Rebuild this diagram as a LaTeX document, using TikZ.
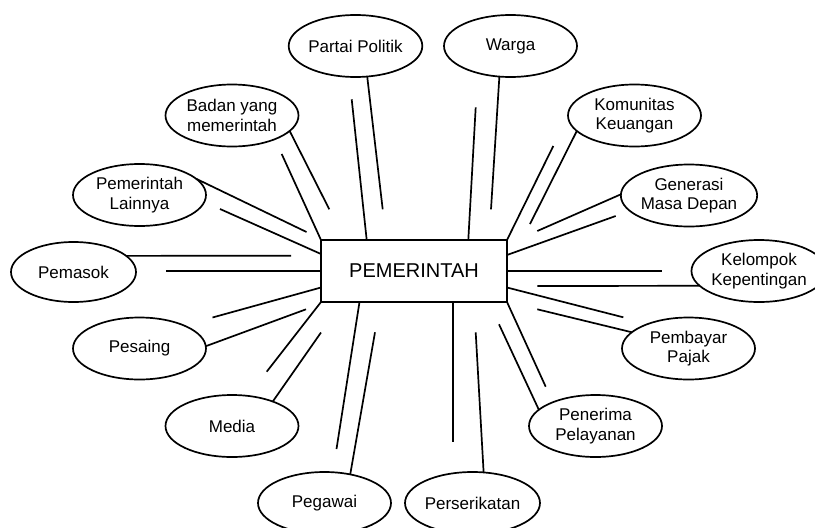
\documentclass[tikz,border=0pt]{standalone}
\usepackage{fontspec}
\setmainfont{Liberation Sans}
\usetikzlibrary{shapes.geometric}

\begin{document}
\begin{tikzpicture}[x=1pt, y=-1pt,
        party/.style={draw, ellipse, line width=1.7pt, inner sep=0pt, outer sep=0pt,
            minimum width=133pt, minimum height=62pt, align=center,
            font=\fontsize{17}{19.5}\selectfont},
        link/.style={line width=1.7pt}]
    \useasboundingbox (0,0) rectangle (815,528);
    \clip (0,0) rectangle (815,528);
        % Draw the centre box
        \node[draw, line width=1.7pt, outer sep=0pt, minimum width=186pt, minimum height=62pt,
            font=\fontsize{20}{24}\selectfont] (gov) at (414,271) {PEMERINTAH};
        % Draw the stakeholders
        \node[party] (partai) at (355.5,46) {Partai Politik};
        \node[party] (warga) at (510.5,46) {Warga};
        \node[party] (badan) at (232,115.5) {Badan yang\\memerintah};
        \node[party] (komunitas) at (634.5,115.5) {Komunitas\\Keuangan};
        \node[party] (lain) at (139.5,195) {Pemerintah\\Lainnya};
        \node[party] (generasi) at (689,195.5) {Generasi\\Masa Depan};
        \node[party, minimum width=125pt, minimum height=60pt] (pemasok) at (73.5,272) {Pemasok};
        \node[party] (kelompok) at (759,271) {Kelompok\\Kepentingan};
        \node[party] (pesaing) at (139.5,348.5) {Pesaing};
        \node[party] (pajak) at (688.5,348.5) {Pembayar\\Pajak};
        \node[party] (media) at (232,426) {Media};
        \node[party] (penerima) at (595.5,426) {Penerima\\Pelayanan};
        \node[party] (pegawai) at (324.5,503) {Pegawai};
        \node[party] (serikat) at (472.5,503) {Perserikatan};
        % Free ends of the paired lines
        \coordinate (partai-a) at (382.7,209.3);
        \coordinate (partai-b) at (351.7,99.3);
        \coordinate (warga-a) at (491,209.3);
        \coordinate (warga-b) at (475.7,107.3);
        \coordinate (badan-a) at (329.3,209.3);
        \coordinate (badan-b) at (281.7,154);
        \coordinate (komunitas-a) at (530,224);
        \coordinate (komunitas-b) at (553.3,146);
        \coordinate (lain-a) at (306.5,232);
        \coordinate (lain-b) at (220,209);
        \coordinate (generasi-a) at (537.3,231);
        \coordinate (generasi-b) at (615.7,216);
        \coordinate (pemasok-a) at (291,255.7);
        \coordinate (pemasok-b) at (165.7,271);
        \coordinate (kelompok-a) at (537.3,286);
        \coordinate (kelompok-b) at (662.3,271);
        \coordinate (pesaing-a) at (306,309.3);
        \coordinate (pesaing-b) at (212.5,317.5);
        \coordinate (pajak-a) at (537.3,309.3);
        \coordinate (pajak-b) at (623.3,317.3);
        \coordinate (media-a) at (321,332.5);
        \coordinate (media-b) at (266.7,371.7);
        \coordinate (penerima-a) at (499,324.3);
        \coordinate (penerima-b) at (545.7,386.7);
        \coordinate (pegawai-a) at (375,332.3);
        \coordinate (pegawai-b) at (336.5,449);
        \coordinate (serikat-a) at (475.7,332.3);
        \coordinate (serikat-b) at (452.7,441.7);
        % Lines from the stakeholders
        \draw[link] (partai.291) -- (partai-a);
        \draw[link] (warga.250) -- (warga-a);
        \draw[link] (badan.345) -- (badan-a);
        \draw[link] (komunitas.195) -- (komunitas-a);
        \draw[link] (lain.16) -- (lain-a);
        \draw[link] (generasi.179) -- (generasi-a);
        \draw[link] (pemasok.17) -- (pemasok-a);
        \draw[link] (kelompok.194) -- (kelompok-a);
        \draw[link] (pesaing.2) -- (pesaing-a);
        \draw[link] (pajak.164) -- (pajak-a);
        \draw[link] (media.31) -- (media-a);
        \draw[link] (penerima.164) -- (penerima-a);
        \draw[link] (pegawai.48) -- (pegawai-a);
        \draw[link] (serikat.70) -- (serikat-a);
        % Lines from the government
        \draw[link] ([xshift=-47.3pt]gov.north) -- (partai-b);
        \draw[link] ([xshift=54.3pt]gov.north) -- (warga-b);
        \draw[link] (gov.north west) -- (badan-b);
        \draw[link] (gov.north east) -- (komunitas-b);
        \draw[link] ([yshift=17pt]gov.west) -- (lain-b);
        \draw[link] ([yshift=16pt]gov.east) -- (generasi-b);
        \draw[link] (gov.west) -- (pemasok-b);
        \draw[link] (gov.east) -- (kelompok-b);
        \draw[link] ([yshift=-16.5pt]gov.west) -- (pesaing-b);
        \draw[link] ([yshift=-16.5pt]gov.east) -- (pajak-b);
        \draw[link] (gov.south west) -- (media-b);
        \draw[link] (gov.south east) -- (penerima-b);
        \draw[link] ([xshift=-54.5pt]gov.south) -- (pegawai-b);
        \draw[link] ([xshift=38.7pt]gov.south) -- (serikat-b);
\end{tikzpicture}
\end{document}
